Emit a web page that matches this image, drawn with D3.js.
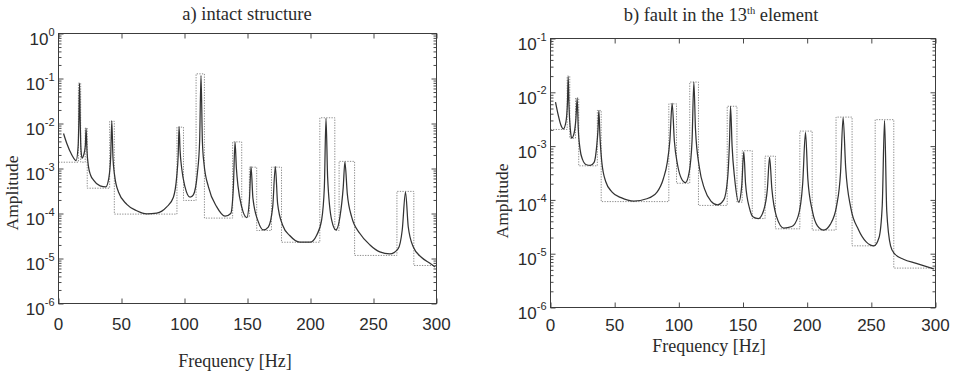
<!DOCTYPE html>
<html>
<head>
<meta charset="utf-8">
<script src="https://cdn.jsdelivr.net/npm/d3@7"></script>
<style>
  body { margin: 0; background: #fff; }
  svg { display: block; }
  .tick-label { font-family: "Liberation Sans", Arial, Helvetica, sans-serif; font-size: 17px; fill: #2b2b2b; }
  .serif { font-family: "Liberation Serif", "Times New Roman", serif; fill: #2b2b2b; }
</style>
</head>
<body>
<svg id="chart" width="960" height="372"></svg>
<script>
// Frequency axis ticks [Hz] and decade exponents of the amplitude axes
const freqTicks = [0, 50, 100, 150, 200, 250, 300];
const decadesIntact = [0, -1, -2, -3, -4, -5, -6];
const decadesFault = [-1, -2, -3, -4, -5, -6];

// Frequency response of the intact structure: [frequency Hz, amplitude]
const intactCurve = [
  [4, 6.0e-3], [6.6, 3.6e-3], [10.6, 2.0e-3], [14, 1.5e-3], [15.6, 3.2e-3],
  [16.2, 1.26e-2], [16.7, 7.8e-2], [17.2, 1.26e-2], [17.8, 2.8e-3], [18.7, 1.7e-3],
  [20, 2.0e-3], [21.3, 3.2e-3], [21.9, 7.8e-3], [22.6, 2.5e-3], [23.8, 1.1e-3],
  [25.5, 7.1e-4], [27.8, 5.5e-4], [33, 4.1e-4], [37.5, 3.9e-4], [40, 6.3e-4],
  [41.4, 1.8e-3], [42.3, 1.15e-2], [43.2, 1.8e-3], [44.5, 7.1e-4], [47.6, 3.0e-4],
  [54.2, 1.6e-4], [62.1, 1.15e-4], [70, 9.8e-5], [78, 1.02e-4], [85.9, 1.4e-4],
  [91.2, 2.3e-4], [93.8, 6.5e-4], [95, 2.0e-3], [95.7, 8.5e-3], [96.5, 2.5e-3],
  [97.8, 1.0e-3], [100.4, 3.9e-4], [104.4, 2.3e-4], [107, 2.6e-4], [110.2, 7.8e-4],
  [112, 4.0e-3], [113.1, 1.17e-1], [114.2, 4.0e-3], [115.5, 1.26e-3], [119, 3.9e-4],
  [125.6, 1.4e-4], [132.2, 8.7e-5], [136.7, 1.0e-4], [138.8, 3.9e-4], [140.1, 3.9e-3],
  [141.2, 1.0e-3], [142.5, 4.0e-4], [145.4, 1.4e-4], [149.4, 8.1e-5], [151.5, 2.0e-4],
  [152.8, 1.1e-3], [154.3, 2.2e-4], [158.6, 6.5e-5], [162.6, 4.3e-5], [166.5, 5.0e-5],
  [170, 1.4e-4], [172.1, 1.1e-3], [173.9, 1.66e-4], [177.9, 5.5e-5], [183.7, 3.2e-5],
  [191.6, 2.3e-5], [199.6, 2.3e-5], [204.9, 3.3e-5], [208.8, 7.1e-5], [211, 3.9e-4],
  [212.3, 1.3e-2], [213.6, 6.3e-4], [216.8, 7.1e-5], [220.2, 4.3e-5], [223.4, 8.5e-5],
  [226, 3.9e-4], [227.3, 1.4e-3], [229.2, 2.75e-4], [232.6, 8.5e-5], [239.2, 3.6e-5],
  [247.2, 2.0e-5], [255, 1.4e-5], [263, 1.26e-5], [269.6, 1.66e-5], [272.8, 4.3e-5],
  [275.4, 3.0e-4], [277.6, 5.0e-5], [281.6, 1.8e-5], [288.2, 1.05e-5], [294.8, 7.8e-6],
  [298.8, 6.5e-6]
];

// Band levels of the intact structure: [band start Hz, level]
const intactBands = [
  [0, 1.38e-3], [15.8, 7.9e-2], [17.6, 1.38e-3], [21.2, 7.9e-3], [22.8, 3.65e-4],
  [40.6, 1.12e-2], [44.3, 9.7e-5], [94, 8.3e-3], [99.2, 1.95e-4], [109.2, 1.27e-1],
  [115.8, 7.9e-5], [138.2, 3.9e-3], [145.4, 8.4e-5], [151.5, 1.07e-3], [157.3, 4.2e-5],
  [169, 1.07e-3], [177, 2.3e-5], [207.4, 1.34e-2], [219.3, 4.2e-5], [222.7, 1.44e-3],
  [235, 1.17e-5], [268.6, 3.1e-4], [282, 7.0e-6]
];

// Frequency response with a fault in the 13th element: [frequency Hz, amplitude]
const faultCurve = [
  [3.9, 6.6e-3], [6, 3.8e-3], [8, 2.5e-3], [10, 2.1e-3], [12, 2.8e-3],
  [13.2, 6.3e-3], [13.8, 1.95e-2], [14.4, 5.6e-3], [15.5, 2.0e-3], [16.5, 1.4e-3],
  [18, 1.6e-3], [19.8, 3.2e-3], [20.8, 7.8e-3], [21.6, 2.2e-3], [23, 8.9e-4],
  [25, 5.6e-4], [28, 4.5e-4], [31, 4.4e-4], [34, 5.0e-4], [36, 1.0e-3],
  [37, 2.0e-3], [37.7, 4.6e-3], [38.5, 1.6e-3], [40, 5.0e-4], [43, 2.2e-4],
  [48, 1.4e-4], [55, 1.1e-4], [65, 9.5e-5], [75, 1.05e-4], [83, 1.4e-4],
  [88, 2.5e-4], [91, 5.0e-4], [93, 1.26e-3], [94.8, 6.2e-3], [96.5, 1.26e-3],
  [99, 4.5e-4], [102, 2.5e-4], [105.2, 2.1e-4], [108, 3.2e-4], [110.3, 1.26e-3],
  [111.7, 1.55e-2], [113, 2.0e-3], [116, 4.0e-4], [120, 1.6e-4], [125, 9.5e-5],
  [130, 8.1e-5], [135, 1.0e-4], [138, 2.5e-4], [139.5, 1.26e-3], [140.3, 5.5e-3],
  [141.5, 1.0e-3], [143.5, 2.5e-4], [146.7, 9.1e-5], [149, 1.8e-4], [150.6, 7.8e-4],
  [152, 2.0e-4], [155, 7.1e-5], [158, 4.8e-5], [162, 4.5e-5], [166, 6.3e-5],
  [169, 1.6e-4], [170.7, 6.2e-4], [172.5, 1.6e-4], [176, 5.0e-5], [181.8, 3.0e-5],
  [188, 3.2e-5], [193, 5.0e-5], [196.5, 2.0e-4], [198.7, 1.8e-3], [200.5, 2.5e-4],
  [204, 6.3e-5], [208, 3.3e-5], [213, 2.75e-5], [218, 3.5e-5], [223, 7.9e-5],
  [226, 3.2e-4], [228, 3.4e-3], [230, 4.0e-4], [234, 7.1e-5], [240, 2.8e-5],
  [246, 1.66e-5], [252, 1.4e-5], [256, 2.0e-5], [258.5, 7.9e-5], [260.3, 3.0e-3],
  [262, 6.3e-5], [265, 1.4e-5], [268, 1.0e-5], [275, 7.9e-6], [285, 6.6e-6],
  [298.7, 5.2e-6]
];

// Band levels with a fault in the 13th element: [band start Hz, level]
const faultBands = [
  [0, 2.04e-3], [13, 2.0e-2], [15, 1.4e-3], [19.5, 7.8e-3], [22, 4.3e-4],
  [36.5, 4.6e-3], [39.5, 9.3e-5], [92.2, 6.1e-3], [98.2, 2.04e-4], [108.5, 1.55e-2],
  [115.3, 7.9e-5], [137.7, 5.5e-3], [145.3, 9.1e-5], [149.4, 8.2e-4], [157.2, 4.5e-5],
  [167.2, 6.5e-4], [175.3, 2.9e-5], [194.3, 1.9e-3], [203.9, 2.75e-5], [222.5, 3.46e-3],
  [235, 1.4e-5], [253, 3.1e-3], [267.5, 5.4e-6]
];

const svg = d3.select("#chart");

function drawPanel(cfg) {
  const g = svg.append("g");
  const x = d3.scaleLinear().domain([0, 300]).range([cfg.left, cfg.right]);
  const y = d3.scaleLog()
    .domain([Math.pow(10, d3.min(cfg.decades)), Math.pow(10, d3.max(cfg.decades))])
    .range([cfg.bottom, cfg.top]);

  const clipId = "clip-" + cfg.id;
  svg.append("clipPath").attr("id", clipId)
    .append("rect")
    .attr("x", cfg.left).attr("y", cfg.top)
    .attr("width", cfg.right - cfg.left).attr("height", cfg.bottom - cfg.top);

  const plot = g.append("g").attr("clip-path", `url(#${clipId})`);

  // dotted staircase of band levels
  const steps = cfg.bands.concat([[300, cfg.bands[cfg.bands.length - 1][1]]]);
  plot.append("path")
    .attr("d", d3.line().x(d => x(d[0])).y(d => y(d[1])).curve(d3.curveStepAfter)(steps))
    .attr("fill", "none")
    .attr("stroke", "#8c8c8c")
    .attr("stroke-width", 1)
    .attr("stroke-dasharray", "1.3,1.3");

  // response curve
  plot.append("path")
    .attr("d", d3.line().x(d => x(d[0])).y(d => y(d[1])).curve(d3.curveMonotoneX)(cfg.curve))
    .attr("fill", "none")
    .attr("stroke", "#333")
    .attr("stroke-width", 1.25)
    .attr("stroke-linejoin", "round");

  // inward ticks on all four sides
  const major = cfg.decades.map(e => Math.pow(10, e));
  const minor = [];
  const lo = d3.min(cfg.decades), hi = d3.max(cfg.decades);
  for (let e = lo; e < hi; e++) for (let k = 2; k <= 9; k++) minor.push(k * Math.pow(10, e));

  const styleAxis = sel => {
    sel.select(".domain").remove();
    sel.selectAll("line").attr("stroke", "#4a4a4a").attr("stroke-width", 1);
  };
  g.append("g").attr("transform", `translate(0,${cfg.bottom})`)
    .call(d3.axisBottom(x).tickValues(freqTicks).tickSize(-5).tickFormat("")).call(styleAxis);
  g.append("g").attr("transform", `translate(0,${cfg.top})`)
    .call(d3.axisTop(x).tickValues(freqTicks).tickSize(-5).tickFormat("")).call(styleAxis);
  g.append("g").attr("transform", `translate(${cfg.left},0)`)
    .call(d3.axisLeft(y).tickValues(major).tickSize(-5).tickFormat("")).call(styleAxis);
  g.append("g").attr("transform", `translate(${cfg.left},0)`)
    .call(d3.axisLeft(y).tickValues(minor).tickSize(-3).tickFormat("")).call(styleAxis);
  g.append("g").attr("transform", `translate(${cfg.right},0)`)
    .call(d3.axisRight(y).tickValues(major).tickSize(-5).tickFormat("")).call(styleAxis);
  g.append("g").attr("transform", `translate(${cfg.right},0)`)
    .call(d3.axisRight(y).tickValues(minor).tickSize(-3).tickFormat("")).call(styleAxis);

  // frame
  g.append("rect")
    .attr("x", cfg.left).attr("y", cfg.top)
    .attr("width", cfg.right - cfg.left).attr("height", cfg.bottom - cfg.top)
    .attr("fill", "none").attr("stroke", "#3c3c3c").attr("stroke-width", 1);

  // frequency tick labels
  g.selectAll(".xlab").data(freqTicks).enter().append("text")
    .attr("class", "tick-label")
    .attr("x", d => x(d)).attr("y", cfg.bottom + cfg.xLabelGap)
    .attr("text-anchor", "middle")
    .text(d => d);

  // decade tick labels 10^n
  const ylab = g.selectAll(".ylab").data(cfg.decades).enter().append("text")
    .attr("class", "tick-label")
    .attr("x", cfg.left - 4)
    .attr("y", d => y(Math.pow(10, d)) + 11.5)
    .attr("text-anchor", "end");
  ylab.append("tspan").text("10");
  ylab.append("tspan").attr("dy", -9.5).attr("font-size", 11).text(d => d === 0 ? "0" : "-" + Math.abs(d));

  // titles and axis names
  const title = g.append("text").attr("class", "serif")
    .attr("x", cfg.titleX).attr("y", cfg.titleY)
    .attr("text-anchor", "middle").attr("font-size", 18.5);
  cfg.title(title);

  g.append("text").attr("class", "serif")
    .attr("x", cfg.xNameX).attr("y", cfg.xNameY)
    .attr("text-anchor", "middle").attr("font-size", 18)
    .text("Frequency [Hz]");

  g.append("text").attr("class", "serif")
    .attr("transform", `translate(${cfg.yNameX},${cfg.yNameY}) rotate(-90)`)
    .attr("text-anchor", "middle").attr("font-size", 17.5)
    .text("Amplitude");
}

drawPanel({
  id: "intact",
  left: 58.5, right: 436.5, top: 33.5, bottom: 303.5,
  decades: decadesIntact,
  curve: intactCurve,
  bands: intactBands,
  xLabelGap: 26,
  titleX: 247, titleY: 20,
  title: t => t.text("a) intact structure"),
  xNameX: 235, xNameY: 367,
  yNameX: 18, yNameY: 193
});

drawPanel({
  id: "fault",
  left: 550.5, right: 935.5, top: 38.5, bottom: 307.5,
  decades: decadesFault,
  curve: faultCurve,
  bands: faultBands,
  xLabelGap: 23,
  titleX: 721, titleY: 21,
  title: t => {
    t.append("tspan").text("b) fault in the 13");
    t.append("tspan").attr("dy", -7).attr("font-size", 10.5).text("th");
    t.append("tspan").attr("dy", 7).text(" element");
  },
  xNameX: 709, xNameY: 351.5,
  yNameX: 508, yNameY: 201
});
</script>
</body>
</html>
